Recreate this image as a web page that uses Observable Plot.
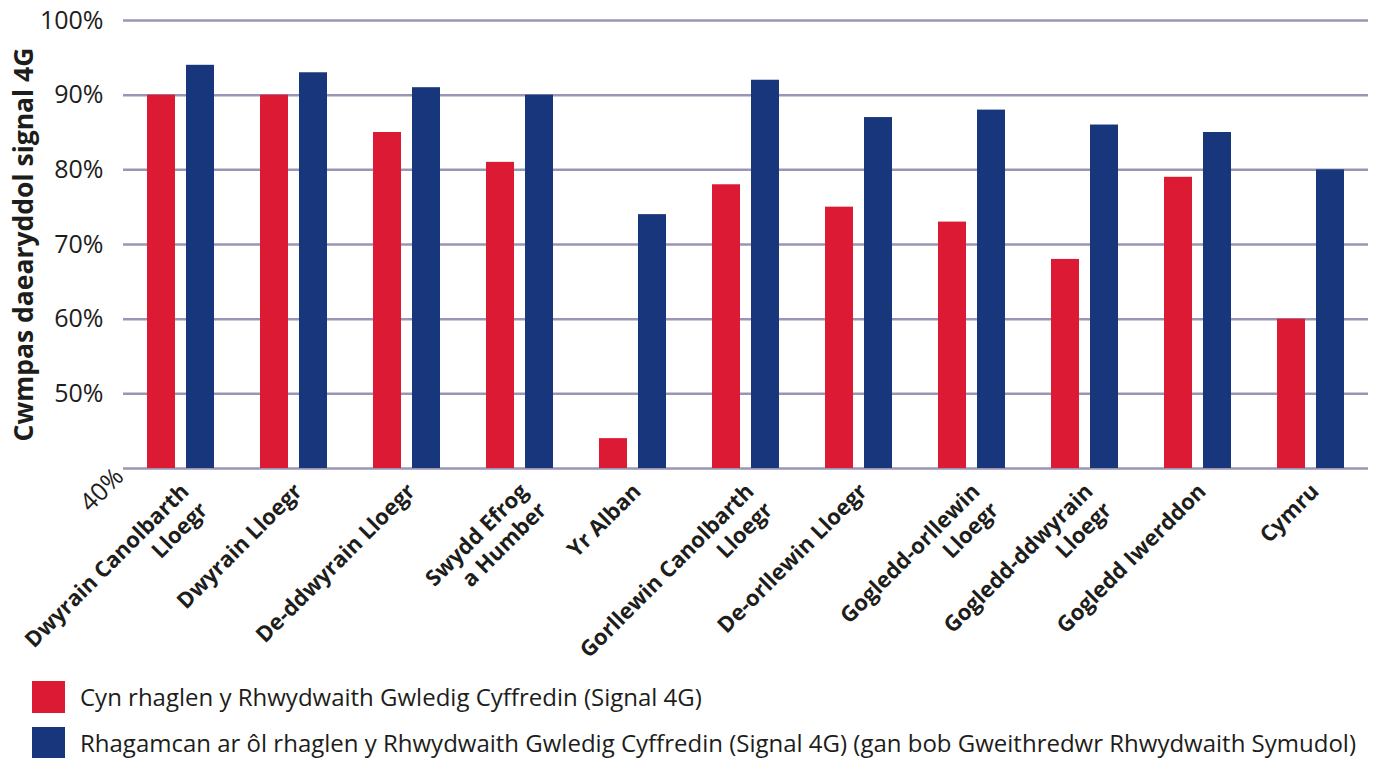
<!DOCTYPE html>
<html>
<head>
<meta charset="utf-8">
<script src="https://cdn.jsdelivr.net/npm/d3@7"></script>
<script src="https://cdn.jsdelivr.net/npm/@observablehq/plot@0.6"></script>
<style>
  html, body { margin: 0; padding: 0; background: #fff; }
  body { width: 1384px; height: 758px; overflow: hidden; font-family: "Open Sans", Lato, sans-serif; color: #1d1d1b; position: relative; }
  #chart svg { display: block; }
  .legend { position: absolute; left: 0; top: 0; width: 1384px; }
  .row { position: absolute; left: 32px; display: flex; align-items: center; font-size: 24px; white-space: nowrap; }
  .sw { width: 33px; height: 32px; margin-right: 15px; flex: none; }
</style>
</head>
<body>
<div id="chart"></div>
<div class="legend" id="legend"></div>
<script>
const regions = [
  "Dwyrain Canolbarth Lloegr", "Dwyrain Lloegr", "De-ddwyrain Lloegr", "Swydd Efrog a Humber",
  "Yr Alban", "Gorllewin Canolbarth Lloegr", "De-orllewin Lloegr", "Gogledd-orllewin Lloegr",
  "Gogledd-ddwyrain Lloegr", "Gogledd Iwerddon", "Cymru"
];
const regionLabels = [
  "Dwyrain Canolbarth\nLloegr", "Dwyrain Lloegr", "De-ddwyrain Lloegr", "Swydd Efrog\na Humber",
  "Yr Alban", "Gorllewin Canolbarth\nLloegr", "De-orllewin Lloegr", "Gogledd-orllewin\nLloegr",
  "Gogledd-ddwyrain\nLloegr", "Gogledd Iwerddon", "Cymru"
];
const beforeSRN = [90, 90, 85, 81, 44, 78, 75, 73, 68, 79, 60];
const afterSRN  = [94, 93, 91, 90, 74, 92, 87, 88, 86, 85, 80];
const seriesNames = [
  "Cyn rhaglen y Rhwydwaith Gwledig Cyffredin (Signal 4G)",
  "Rhagamcan ar ôl rhaglen y Rhwydwaith Gwledig Cyffredin (Signal 4G) (gan bob Gweithredwr Rhwydwaith Symudol)"
];
const yTicks = [40, 50, 60, 70, 80, 90, 100];
const yTitle = "Cwmpas daearyddol signal 4G";

const RED = "#dc1a34", BLUE = "#17367b", GRID = "#9b95b5", INK = "#1d1d1b";

const rows = regions.map((r, i) => ({region: r, label: regionLabels[i], before: beforeSRN[i], after: afterSRN[i]}));

const chart = Plot.plot({
  width: 1384,
  height: 690,
  marginLeft: 123,
  marginRight: 16,
  marginTop: 20,
  marginBottom: 222,
  style: {fontFamily: "'Open Sans', Lato, sans-serif", color: INK, background: "#fff"},
  x: {type: "band", domain: regions, paddingInner: 0, paddingOuter: 0, axis: null},
  y: {domain: [40, 100], axis: null},
  marks: [
    Plot.ruleY(yTicks, {stroke: GRID, strokeWidth: 2.5}),
    Plot.barY(rows, {x: "region", y1: () => 40, y2: "before", fill: RED, insetLeft: 23, insetRight: 62}),
    Plot.barY(rows, {x: "region", y1: () => 40, y2: "after", fill: BLUE, insetLeft: 62, insetRight: 23}),
    Plot.text(yTicks.filter(d => d > 40), {y: d => d, frameAnchor: "left", dx: -20, textAnchor: "end", text: d => d + "%", fontSize: 25, letterSpacing: -0.5, fill: INK}),
    Plot.text(yTicks.filter(d => d === 40), {y: d => d, frameAnchor: "left", dx: -4, dy: 4, textAnchor: "end", rotate: -45, text: d => d + "%", fontSize: 25, letterSpacing: -0.5, fill: INK}),
    Plot.text([yTitle], {frameAnchor: "left", dx: -99, rotate: -90, textAnchor: "middle", text: d => d, fontSize: 26.5, fontWeight: "bold", fill: INK}),
    Plot.text(rows, {x: "region", y: () => 40, text: "label", rotate: -45, textAnchor: "end", lineAnchor: "top", dx: -4, dy: 11, fontSize: 22, fontWeight: "bold", lineHeight: 1.2, fill: INK})
  ]
});
document.getElementById("chart").appendChild(chart);

const legend = document.getElementById("legend");
[[RED, seriesNames[0], 680], [BLUE, seriesNames[1], 726]].forEach(([c, t, top]) => {
  const row = document.createElement("div");
  row.className = "row";
  row.style.top = top + "px";
  const sw = document.createElement("div");
  sw.className = "sw";
  sw.style.background = c;
  const tx = document.createElement("span");
  tx.textContent = t;
  row.appendChild(sw);
  row.appendChild(tx);
  legend.appendChild(row);
});
</script>
</body>
</html>
